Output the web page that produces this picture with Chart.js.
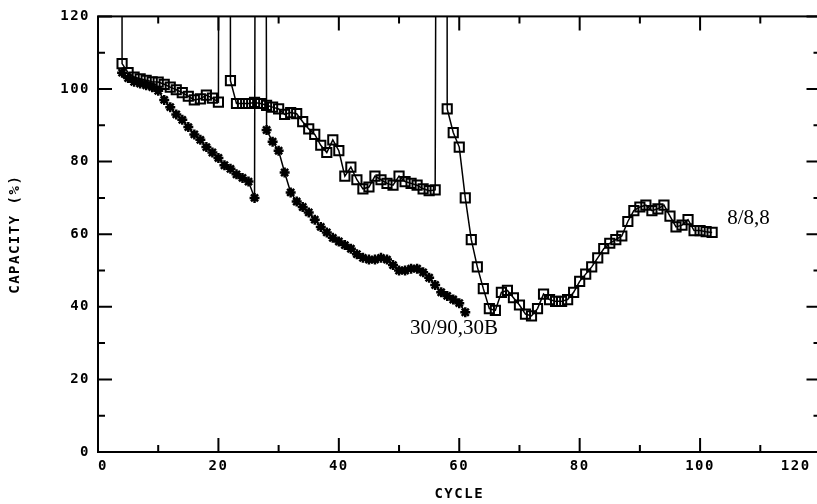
<!DOCTYPE html>
<html lang="en">
<head>
    <meta charset="UTF-8">
    <title>Capacity vs Cycle</title>
    <style>
        html, body {
            margin: 0;
            padding: 0;
            overflow: hidden;
            background: #fff;
        }
        canvas { display: block; }
    </style>
    <script src="https://cdn.jsdelivr.net/npm/chart.js"></script>
</head>
<body>
    <canvas id="capChart" width="829" height="504"></canvas>

    <script>
        // 8/8,8 series (squares); 300 = off-scale reading, clipped at the top
        const cyclesA = [3.9, 4, 5, 6, 7, 8, 9, 10, 11, 12, 13, 14, 15, 16, 17, 18, 19, 20, 20.2, 21.9,
            22, 23, 24, 25, 26, 27, 28, 29, 30, 31, 32, 33, 34, 35, 36, 37, 38, 39, 40,
            41, 42, 43, 44, 45, 46, 47, 48, 49, 50, 51, 52, 53, 54, 55, 56, 56.4, 57.9,
            58, 59, 60, 61, 62, 63, 64, 65, 66, 67, 68, 69, 70, 71, 72, 73, 74, 75, 76, 77, 78, 79, 80,
            81, 82, 83, 84, 85, 86, 87, 88, 89, 90, 91, 92, 93, 94, 95, 96, 97, 98, 99, 100, 101, 102];
        const capacityA = [300, 107, 104.5, 103.3, 102.8, 102.4, 102, 101.9, 101.3, 100.5, 99.8, 99, 98, 97, 97.3, 98.3, 97.5, 96.4, 300, 300,
            102.3, 96, 96, 96, 96.3, 96, 95.5, 95, 94.5, 93, 93.5, 93.2, 91, 89, 87.5, 84.5, 82.5, 86, 83,
            76, 78.5, 75, 72.5, 73, 76, 75, 74, 73.5, 76, 74.5, 74, 73.5, 72.5, 72, 72.2, 300, 300,
            94.5, 88, 84, 70, 58.5, 51, 45, 39.5, 39, 44, 44.5, 42.5, 40.5, 38, 37.5, 39.5, 43.5, 42, 41.5, 41.5, 42, 44, 47,
            49, 51, 53.5, 56, 57.5, 58.5, 59.5, 63.5, 66.5, 67.5, 68, 66.5, 67, 68, 65, 62, 62.5, 64, 61, 61, 60.7, 60.5];

        // 30/90,30B series (stars)
        const cyclesB = [4, 5, 6, 7, 8, 9, 10, 11, 12, 13, 14, 15, 16, 17, 18, 19, 20, 21, 22, 23, 24, 25, 26, 26.3, 27.7,
            28, 29, 30, 31, 32, 33, 34, 35, 36, 37, 38, 39, 40, 41, 42, 43, 44, 45, 46, 47, 48, 49, 50,
            51, 52, 53, 54, 55, 56, 57, 58, 59, 60, 61];
        const capacityB = [104.5, 103, 102, 101.5, 101, 100.5, 99.5, 97, 95, 93, 91.5, 89.5, 87.5, 86, 84, 82.5, 81, 79, 78, 76.5, 75.5, 74.5, 70, 300, 300,
            88.7, 85.5, 83, 77, 71.5, 69, 67.5, 66, 64, 62, 60.5, 59, 58, 57, 56, 54.5, 53.5, 53, 53, 53.5, 53, 51.5, 50,
            50, 50.5, 50.5, 49.5, 48, 46, 44, 43, 42, 41, 38.5];

        const seriesLabels = ['8/8,8', '30/90,30B'];
        const labelSpots = [[104.5, 64.4], [51.8, 34]];   // where each name is written, in data units

        const toPoints = (xs, ys) => xs.map((x, i) => ({ x: x, y: ys[i] }));

        const tickFont = { family: 'DejaVu Sans Mono', weight: 'bold', size: 14 };
        const everyOther = v => (v % 20 === 0 ? String(v) : '');
        // last x label sits a bit in from the (cut off) right edge
        const xLabel = v => (v === 120 ? '120 ' : everyOther(v));

        // frame and inward tick marks on all four sides
        const framePlugin = {
            id: 'frame',
            beforeDraw(chart) {
                chart.ctx.letterSpacing = '1.5px';
            },
            afterDatasetsDraw(chart) {
                const { ctx, chartArea: a, scales } = chart;
                ctx.save();
                ctx.strokeStyle = '#000';
                ctx.lineWidth = 2;
                ctx.strokeRect(a.left, a.top, a.right - a.left, a.bottom - a.top);
                scales.x.ticks.forEach(t => {
                    const px = scales.x.getPixelForValue(t.value);
                    const len = t.value % 20 === 0 ? 14 : 7;
                    ctx.beginPath();
                    ctx.moveTo(px, a.bottom); ctx.lineTo(px, a.bottom - len);
                    ctx.moveTo(px, a.top); ctx.lineTo(px, a.top + len);
                    ctx.stroke();
                });
                scales.y.ticks.forEach(t => {
                    const py = scales.y.getPixelForValue(t.value);
                    const len = t.value % 20 === 0 ? 14 : 7;
                    ctx.beginPath();
                    ctx.moveTo(a.left, py); ctx.lineTo(a.left + len, py);
                    ctx.moveTo(a.right, py); ctx.lineTo(a.right - len, py);
                    ctx.stroke();
                });
                ctx.restore();
            },
            afterDraw(chart) {
                const { ctx, scales } = chart;
                ctx.save();
                ctx.letterSpacing = '0px';
                ctx.fillStyle = '#000';
                ctx.font = '21px "Liberation Serif"';
                ctx.textAlign = 'left';
                ctx.textBaseline = 'middle';
                seriesLabels.forEach((txt, i) => {
                    const [lx, ly] = labelSpots[i];
                    ctx.fillText(txt, scales.x.getPixelForValue(lx), scales.y.getPixelForValue(ly));
                });
                ctx.restore();
            }
        };

        const ctx = document.getElementById('capChart').getContext('2d');
        new Chart(ctx, {
            type: 'line',
            data: {
                datasets: [{
                    label: seriesLabels[0],
                    data: toPoints(cyclesA, capacityA),
                    borderColor: '#000',
                    borderWidth: 1.5,
                    pointStyle: 'rect',
                    pointRadius: 6.5,
                    pointBorderWidth: 2,
                    pointBorderColor: '#000',
                    pointBackgroundColor: 'rgba(0,0,0,0)',
                    tension: 0
                }, {
                    label: seriesLabels[1],
                    data: toPoints(cyclesB, capacityB),
                    borderColor: '#000',
                    borderWidth: 1.5,
                    pointStyle: 'star',
                    pointRadius: 5,
                    pointBorderWidth: 2.5,
                    pointBorderColor: '#000',
                    pointBackgroundColor: '#000',
                    tension: 0
                }]
            },
            options: {
                responsive: false,
                animation: false,
                events: [],
                layout: { padding: { top: 14, right: 0, bottom: 0, left: 0 } },
                plugins: {
                    legend: { display: false },
                    tooltip: { enabled: false }
                },
                scales: {
                    x: {
                        type: 'linear',
                        min: 0,
                        max: 120,
                        grid: { display: false, drawTicks: true, tickLength: 6 },
                        border: { display: false },
                        ticks: {
                            stepSize: 10,
                            autoSkip: false,
                            maxRotation: 0,
                            align: 'inner',
                            padding: 0,
                            color: '#000',
                            font: tickFont,
                            callback: xLabel
                        },
                        title: {
                            display: true,
                            text: 'CYCLE',
                            color: '#000',
                            font: tickFont,
                            padding: { top: 0, bottom: 1 }
                        },
                        afterFit: scale => {
                            scale.height = 52;
                            scale.paddingLeft = 0;
                            scale.paddingRight = 0;
                        }
                    },
                    y: {
                        min: 0,
                        max: 120,
                        grid: { display: false, drawTicks: false },
                        border: { display: false },
                        ticks: {
                            stepSize: 10,
                            autoSkip: false,
                            padding: 8,
                            color: '#000',
                            font: tickFont,
                            callback: everyOther
                        },
                        title: {
                            display: true,
                            text: 'CAPACITY (%)',
                            color: '#000',
                            font: tickFont,
                            padding: { top: 7, bottom: 0 }
                        },
                        afterFit: scale => {
                            scale.width = 98;
                        }
                    }
                }
            },
            plugins: [framePlugin]
        });
    </script>
</body>
</html>
